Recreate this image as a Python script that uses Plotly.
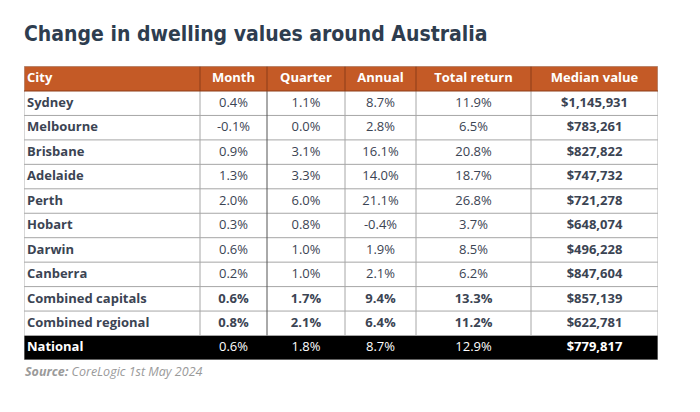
import plotly.graph_objects as go

headers = ["City", "Month", "Quarter", "Annual", "Total return", "Median value"]
cities = ["Sydney", "Melbourne", "Brisbane", "Adelaide", "Perth", "Hobart", "Darwin",
          "Canberra", "Combined capitals", "Combined regional", "National"]
month = ["0.4%", "-0.1%", "0.9%", "1.3%", "2.0%", "0.3%", "0.6%", "0.2%", "0.6%", "0.8%", "0.6%"]
quarter = ["1.1%", "0.0%", "3.1%", "3.3%", "6.0%", "0.8%", "1.0%", "1.0%", "1.7%", "2.1%", "1.8%"]
annual = ["8.7%", "2.8%", "16.1%", "14.0%", "21.1%", "-0.4%", "1.9%", "2.1%", "9.4%", "6.4%", "8.7%"]
total_return = ["11.9%", "6.5%", "20.8%", "18.7%", "26.8%", "3.7%", "8.5%", "6.2%", "13.3%", "11.2%", "12.9%"]
median_value = ["$1,145,931", "$783,261", "$827,822", "$747,732", "$721,278", "$648,074",
                "$496,228", "$847,604", "$857,139", "$622,781", "$779,817"]

# page is 700x412; the HTML body adds an 8px margin, so the figure is 684x396
OFF = 8
W, H = 700 - 2 * OFF, 412 - 2 * OFF

def px(p):
    return (p - OFF) / W

def py(p):
    return 1 - (p - OFF) / H

bold_rows = {"Combined capitals", "Combined regional"}
national = "National"

# layout geometry (page pixels)
col_w = [176, 67, 78, 71, 115, 127]
head_h = 25.0
row_h = 24.45
tx0, ty0 = 24, 66

x_edges = [0]
for w in col_w:
    x_edges.append(x_edges[-1] + w)
y_edges = [0, head_h]
for _ in cities:
    y_edges.append(y_edges[-1] + row_h)
tot_w, tot_h = x_edges[-1], y_edges[-1]

dark = "#3b4453"
orange = "#c45a26"

# cell fill codes: 0 white, 1 black, 2 orange
z = [[2] * len(headers)]
for c in cities:
    z.append([1 if c == national else 0] * len(headers))

fig = go.Figure()
fig.add_trace(go.Heatmap(
    x=x_edges, y=y_edges, z=z,
    zmin=0, zmax=2,
    colorscale=[[0, "#ffffff"], [0.25, "#ffffff"], [0.25, "#000000"], [0.75, "#000000"],
                [0.75, orange], [1, orange]],
    showscale=False, hoverinfo="skip",
))

# text
columns = [cities, month, quarter, annual, total_return, median_value]
tx, ty, tt, tc, tpos = [], [], [], [], []
for j, h in enumerate(headers):
    left = j == 0
    xc = x_edges[j] + 3 if left else (x_edges[j] + x_edges[j + 1]) / 2
    tx.append(xc); ty.append(head_h / 2 + 0.5)
    tt.append(f"<b>{h}</b>"); tc.append("#ffffff")
    tpos.append("middle right" if left else "middle center")
    for i, c in enumerate(cities):
        v = columns[j][i]
        bold = left or j == 5 or c in bold_rows
        tx.append(xc); ty.append((y_edges[i + 1] + y_edges[i + 2]) / 2 + 0.5)
        tt.append(f"<b>{v}</b>" if bold else v)
        tc.append("#ffffff" if c == national else dark)
        tpos.append("middle right" if left else "middle center")

fig.add_trace(go.Scatter(
    x=tx, y=ty, text=tt, mode="text", textposition=tpos,
    textfont=dict(family="Open Sans", size=13, color=tc),
    hoverinfo="skip", showlegend=False, cliponaxis=False,
))

# grid lines
shapes = []
grey = "#a6a6a6"
for k in range(2, len(y_edges) - 1):
    shapes.append(dict(type="line", xref="x", yref="y", x0=0, x1=tot_w,
                       y0=y_edges[k], y1=y_edges[k], line=dict(color=grey, width=1)))
for j in range(1, len(x_edges) - 1):
    lc = "#555555" if j == 2 else grey
    shapes.append(dict(type="line", xref="x", yref="y", x0=x_edges[j], x1=x_edges[j],
                       y0=head_h, y1=y_edges[-2], line=dict(color=lc, width=1)))
    shapes.append(dict(type="line", xref="x", yref="y", x0=x_edges[j], x1=x_edges[j],
                       y0=0, y1=head_h, line=dict(color="#8c3d18", width=1)))
shapes.append(dict(type="rect", xref="x", yref="y", x0=0, x1=tot_w, y0=0, y1=tot_h,
                   line=dict(color="#b0b0b0", width=1)))
shapes.append(dict(type="line", xref="x", yref="y", x0=0, x1=tot_w, y0=head_h, y1=head_h,
                   line=dict(color="#8c3d18", width=1)))

fig.update_layout(
    width=W, height=H,
    margin=dict(l=0, r=0, t=0, b=0),
    paper_bgcolor="#ffffff", plot_bgcolor="#ffffff",
    shapes=shapes,
    xaxis=dict(domain=[px(tx0), px(tx0 + tot_w)], range=[0, tot_w],
               visible=False, fixedrange=True),
    yaxis=dict(domain=[py(ty0 + tot_h), py(ty0)], range=[tot_h, 0],
               visible=False, fixedrange=True),
    showlegend=False,
)

fig.add_annotation(
    text="<b>Change in dwelling values around Australia</b>",
    x=px(22), y=py(20), xref="paper", yref="paper",
    xanchor="left", yanchor="top", showarrow=False, align="left",
    font=dict(family="DejaVu Sans Condensed", size=21, color="#2e3d4f"),
)
fig.add_annotation(
    text="<b><i>Source:</i></b><i> CoreLogic 1st May 2024</i>",
    x=px(23), y=py(361), xref="paper", yref="paper",
    xanchor="left", yanchor="top", showarrow=False, align="left",
    font=dict(family="Open Sans", size=12.5, color="#9a9a9a"),
)

fig.write_html("out.html")
